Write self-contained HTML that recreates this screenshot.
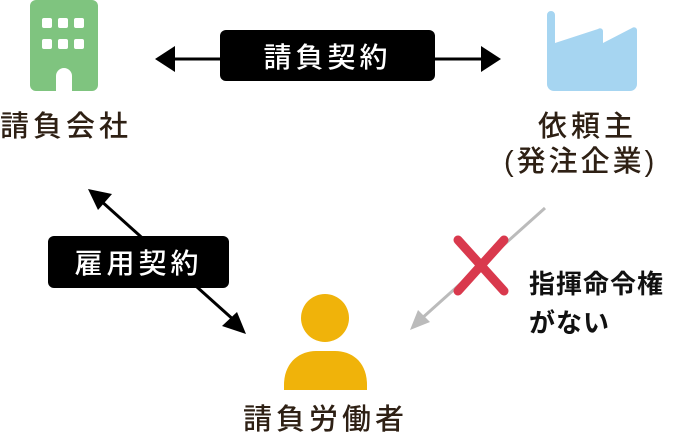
<!DOCTYPE html>
<html><head><meta charset="utf-8"><style>
body{margin:0;width:683px;height:438px;background:#fff;position:relative;overflow:hidden;font-family:"Liberation Sans","Noto Sans CJK JP",sans-serif}
.t{position:absolute;color:#2e2014;font-size:29px;font-weight:500;letter-spacing:4px;white-space:nowrap;line-height:1}
.b{position:absolute;background:#000;color:#fff;border-radius:6px;font-size:28px;font-weight:500;letter-spacing:4px;display:flex;align-items:center;justify-content:center}
.k{position:absolute;font-weight:bold;font-size:26px;color:#111;line-height:1;letter-spacing:1px}
</style></head><body>
<svg width="683" height="438" style="position:absolute;left:0;top:0">
<rect x="30" y="0" width="68" height="91" rx="6" fill="#7fc47f"/>
<g fill="#fff"><rect x="42" y="18" width="10" height="10" rx="2"/><rect x="58" y="18" width="10" height="10" rx="2"/><rect x="74" y="18" width="10" height="10" rx="2"/>
<rect x="42" y="39" width="10" height="10" rx="2"/><rect x="58" y="39" width="10" height="10" rx="2"/><rect x="74" y="39" width="10" height="10" rx="2"/>
<path d="M56 91 V76 a8 8 0 0 1 16 0 V91Z"/></g>
<path d="M547 15 a4 4 0 0 1 8 0 V43 L598 29 a3 3 0 0 1 5 2 V43 L632 28 a3 3 0 0 1 5 2 V84 a7 7 0 0 1 -7 7 H554 a7 7 0 0 1 -7 -7Z" fill="#a6d5f1"/>
<line x1="170" y1="59" x2="486" y2="59" stroke="#000" stroke-width="3"/>
<polygon points="155,59 175,46 175,72"/><polygon points="501,59 481,46 481,72"/>
<line x1="100" y1="200" x2="236" y2="322" stroke="#000" stroke-width="3"/>
<polygon points="88,189 112,194 98,210"/><polygon points="246,334 222,326 237,312"/>
<line x1="545" y1="208" x2="420" y2="320" stroke="#bbb" stroke-width="3"/>
<polygon points="410,330 418,310 430,322" fill="#bbb"/>
<g stroke="#d9394d" stroke-width="9" stroke-linecap="round"><line x1="458" y1="240" x2="504" y2="291"/><line x1="504" y1="240" x2="458" y2="291"/></g>
<ellipse cx="325" cy="318" rx="24" ry="24" fill="#f0b30a"/>
<path d="M284 390 V385 C284 362 300 351 316 351 H335 C352 351 367 362 367 385 V390Z" fill="#f0b30a"/>
</svg>
<div class="b" style="left:220px;top:30px;width:215px;height:51px">請負契約</div>
<div class="b" style="left:48px;top:236px;width:181px;height:52px">雇用契約</div>
<div class="t" style="left:0;top:113px">請負会社</div>
<div class="t" style="left:538px;top:113px">依頼主</div>
<div class="t" style="left:504px;top:148px;letter-spacing:3px">(発注企業)</div>
<div class="t" style="left:243px;top:406px">請負労働者</div>
<div class="k" style="left:529px;top:271px">指揮命令権</div>
<div class="k" style="left:529px;top:310px">がない</div>
</body></html>
